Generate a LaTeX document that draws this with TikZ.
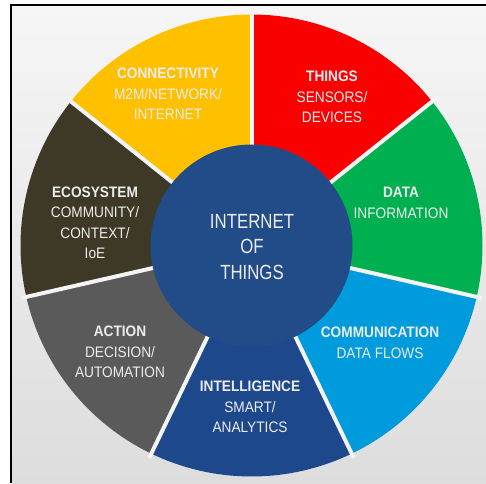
\documentclass[tikz,border=0pt]{standalone}
\usepackage{fontspec}
\setmainfont{Liberation Sans}
\newfontfamily\hubfont[FakeStretch=0.82]{Liberation Sans}
\newfontfamily\lblfont[FakeStretch=0.9]{Liberation Sans}
\usepackage{tikz}
\usetikzlibrary{calc}
\definecolor{thingred}{RGB}{250,0,0}
\definecolor{datagreen}{RGB}{0,176,80}
\definecolor{flowblue}{RGB}{0,155,220}
\definecolor{intelblue}{RGB}{30,72,140}
\definecolor{actgray}{RGB}{90,90,90}
\definecolor{ecobrown}{RGB}{62,57,38}
\definecolor{connyellow}{RGB}{255,192,0}
\definecolor{hubblue}{RGB}{33,76,135}
\definecolor{labelcol}{RGB}{236,236,236}
\definecolor{bgtop}{RGB}{246,246,246}
\definecolor{bgbot}{RGB}{221,221,221}
\definecolor{gapcol}{RGB}{244,244,244}
\tikzstyle{gap}=[draw=gapcol, line width=4pt]
\tikzstyle{lbl}=[text=labelcol, align=center, inner sep=0pt, font=\lblfont\fontsize{15.2}{20.5}\selectfont]
\tikzstyle{hub}=[text=labelcol, align=center, inner sep=0pt, font=\hubfont\fontsize{20.5}{25.5}\selectfont]

\begin{document}
\begin{tikzpicture}[x=1pt,y=1pt]
\useasboundingbox (0,0) rectangle (486,483);
\fill[white] (0,0) rectangle (486,483);
\shade[top color=bgtop, bottom color=bgbot] (11,0) rectangle (486,478);
\draw[line width=1.6pt] (11,0) -- (11,478) -- (486,478);
\coordinate (c) at (251.5,237.5);
\foreach \col [count=\k from 0] in {thingred,datagreen,flowblue,intelblue,actgray,ecobrown,connyellow} {
	\fill[\col] (c) -- ++({90-\k*360/7}:231pt) arc ({90-\k*360/7}:{90-(\k+1)*360/7}:231pt) -- cycle;
}
\foreach \k in {0,...,6} {
	\draw[gap] (c) -- ++({90-\k*360/7}:236pt) coordinate (b\k);
}
\fill[hubblue] (c) circle (101pt);
\node[hub] (iot) at (252,236) {INTERNET\\OF\\THINGS};
\node[lbl] (conn) at (168,389) {\textbf{CONNECTIVITY}\\M2M/NETWORK/\\INTERNET};
\node[lbl] (things) at (332,386) {\textbf{THINGS}\\SENSORS/\\DEVICES};
\node[lbl] (data) at (401,280) {\textbf{DATA}\\INFORMATION};
\node[lbl] (comm) at (380,140) {\textbf{COMMUNICATION}\\DATA FLOWS};
\node[lbl] (intel) at (250,76) {\textbf{INTELLIGENCE}\\SMART/\\ANALYTICS};
\node[lbl] (action) at (120,131) {\textbf{ACTION}\\DECISION/\\AUTOMATION};
\node[lbl] (eco) at (95,260) {\textbf{ECOSYSTEM}\\COMMUNITY/\\CONTEXT/\\IoE};
\end{tikzpicture}
\end{document}
